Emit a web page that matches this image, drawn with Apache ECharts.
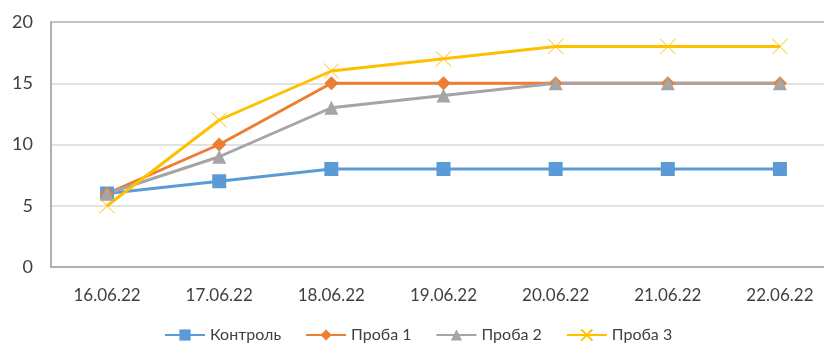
<!DOCTYPE html>
<html>
<head>
<meta charset="utf-8">
<script src="https://cdn.jsdelivr.net/npm/echarts@6/dist/echarts.min.js"></script>
<style>
  html, body { margin: 0; padding: 0; background: #fff; }
  #chart { width: 824px; height: 345px; }
</style>
</head>
<body>
<div id="chart"></div>
<script>
// Dates of observation
const dates = ['16.06.22', '17.06.22', '18.06.22', '19.06.22', '20.06.22', '21.06.22', '22.06.22'];

// Series values
const kontrol = [6, 7, 8, 8, 8, 8, 8];
const proba1 = [6, 10, 15, 15, 15, 15, 15];
const proba2 = [6, 9, 13, 14, 15, 15, 15];
const proba3 = [5, 12, 16, 17, 18, 18, 18];

const seriesNames = ['Контроль', 'Проба 1', 'Проба 2', 'Проба 3'];
const yTicks = { min: 0, max: 20, interval: 5 };

const font = 'Lato, "Open Sans", sans-serif';
const crossPath = 'path://M0,0L10,10M10,0L0,10';

const chart = echarts.init(document.getElementById('chart'), null, { renderer: 'canvas' });

function lineSeries(name, data, color, symbol, size, extra) {
  return Object.assign({
    name: name,
    type: 'line',
    data: data,
    symbol: symbol,
    symbolSize: size,
    showAllSymbol: true,
    lineStyle: { color: color, width: 3 },
    itemStyle: { color: color },
    emphasis: { disabled: true },
    animation: false
  }, extra || {});
}

chart.setOption({
  backgroundColor: '#fff',
  animation: false,
  // plot area runs past the right edge of the canvas
  grid: { left: 51, width: 785, top: 22, bottom: 78, containLabel: false, outerBoundsMode: 'none' },
  legend: {
    top: 327,
    left: 164,
    padding: 0,
    itemWidth: 40,
    itemHeight: 14,
    itemGap: 24,
    textStyle: { fontFamily: font, fontSize: 16, color: '#404040' },
    data: seriesNames
  },
  xAxis: {
    type: 'category',
    data: dates,
    boundaryGap: true,
    axisLine: { lineStyle: { color: '#b0b0b0', width: 2 } },
    axisTick: { show: false },
    axisLabel: { fontFamily: font, fontSize: 17, color: '#404040', margin: 20 },
    splitLine: { show: false }
  },
  yAxis: {
    type: 'value',
    min: yTicks.min,
    max: yTicks.max,
    interval: yTicks.interval,
    axisLine: { show: true, lineStyle: { color: '#b0b0b0', width: 2 } },
    axisTick: { show: false },
    axisLabel: { fontFamily: font, fontSize: 18, color: '#404040', margin: 18 },
    splitLine: { show: true, lineStyle: { color: ['#b0b0b0', '#d9d9d9', '#d9d9d9', '#d9d9d9', '#b0b0b0'], width: 1.5 } }
  },
  series: [
    lineSeries(seriesNames[0], kontrol, '#5B9BD5', 'rect', 14),
    lineSeries(seriesNames[1], proba1, '#ED7D31', 'diamond', 14),
    lineSeries(seriesNames[2], proba2, '#A5A5A5', 'triangle', 14),
    lineSeries(seriesNames[3], proba3, '#FFC000', crossPath, 15, {
      itemStyle: { color: 'rgba(0,0,0,0)', borderColor: '#FFC000', borderWidth: 1 }
    })
  ]
});
</script>
</body>
</html>
